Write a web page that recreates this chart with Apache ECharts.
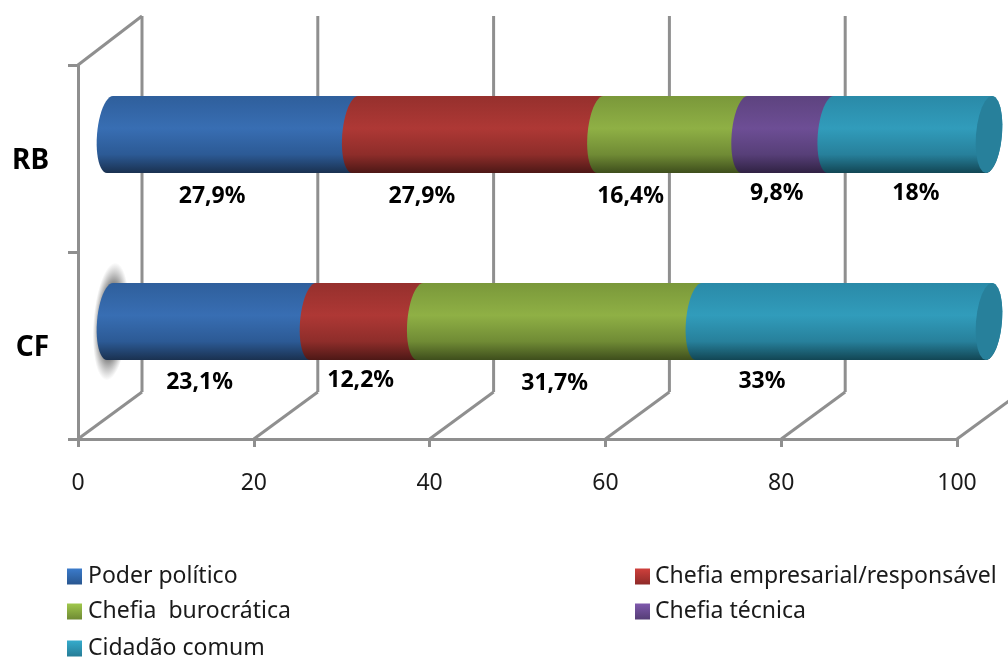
<!DOCTYPE html>
<html><head><meta charset="utf-8">
<style>html,body{margin:0;padding:0;background:#fff}#c{width:1008px;height:657px}</style>
<script src="https://cdn.jsdelivr.net/npm/echarts@6/dist/echarts.min.js"></script>
</head><body><div id="c"></div>
<script>
const categories = ['RB', 'CF'];
const xTicks = [0, 20, 40, 60, 80, 100];
const seriesNames = ['Poder político', 'Chefia empresarial/responsável', 'Chefia  burocrática', 'Chefia técnica', 'Cidadão comum'];
const poderPolitico = [27.9, 23.1];
const chefiaEmpresarial = [27.9, 12.2];
const chefiaBurocratica = [16.4, 31.7];
const chefiaTecnica = [9.8, null];
const cidadaoComum = [18, 33];
const labelsPoder = ['27,9%', '23,1%'];
const labelsEmpresarial = ['27,9%', '12,2%'];
const labelsBurocratica = ['16,4%', '31,7%'];
const labelsTecnica = ['9,8%', null];
const labelsCidadao = ['18%', '33%'];

const values = [poderPolitico, chefiaEmpresarial, chefiaBurocratica, chefiaTecnica, cidadaoComum];
const labels = [labelsPoder, labelsEmpresarial, labelsBurocratica, labelsTecnica, labelsCidadao];

/* styling and layout */
const FONT = '"Noto Sans", sans-serif';
const WALL = '#8f8f8f';
const BAR_DX = 32, BAR_DY = -24, BACK_DX = 64, BACK_DY = -47, RX = 13, RY = 38.5, SKEW = 3;
const palette = [
  ['#2f5f9c', '#386eb3', '#2c5a95', '#1a3150', '#3b7bcb', '#28568f'],
  ['#96302d', '#ae3835', '#8e2d2a', '#4d1816', '#cf403c', '#8e2a28'],
  ['#7a983a', '#8fb045', '#708b35', '#3e4e1c', '#a0c84c', '#6f8a34'],
  ['#5d437f', '#6d4e95', '#573f78', '#302243', '#7f59ad', '#553d75'],
  ['#2a8aa8', '#319cbb', '#27809b', '#124654', '#35abcc', '#267d97']
];
const labelNudge = [
  [[-20.5, 62], [-12, 61]],
  [[-56, 62], [-6, 59]],
  [[-42, 62], [-5, 62]],
  [[-11, 59], null],
  [[6, 59], [-82, 60]]
];

function ellipsePts(cx, cy, from, to) {
  const pts = [];
  for (let i = 0; i <= 24; i++) {
    const t = from + (to - from) * i / 24;
    pts.push([cx + RX * Math.cos(t) - SKEW * Math.sin(t), cy + RY * Math.sin(t)]);
  }
  return pts;
}
function vGrad(c) {
  return {type: 'linear', x: 0, y: 0, x2: 0, y2: 1, colorStops: [
    {offset: 0, color: c[0]}, {offset: 0.42, color: c[1]}, {offset: 0.76, color: c[2]}, {offset: 1, color: c[3]}
  ]};
}
function legendGrad(c) {
  return {type: 'linear', x: 0, y: 0, x2: 0, y2: 1, colorStops: [{offset: 0, color: c[4]}, {offset: 1, color: c[5]}]};
}
const haloFill = {type: 'radial', x: 0.5, y: 0.5, r: 0.5, colorStops: [
  {offset: 0, color: 'rgba(120,120,120,0.95)'},
  {offset: 0.65, color: 'rgba(125,125,125,0.9)'},
  {offset: 1, color: 'rgba(150,150,150,0)'}
]};

function makeSeries(si) {
  const data = [];
  categories.forEach((cat, ci) => {
    if (values[si][ci] == null) return;
    let start = 0;
    for (let k = 0; k < si; k++) start += values[k][ci] || 0;
    data.push([start, start + values[si][ci], ci]);
  });
  return {
    type: 'custom', name: seriesNames[si], z: 5 + si, data, clip: false,
    encode: {x: [0, 1], y: 2},
    itemStyle: {color: legendGrad(palette[si])},
    renderItem(params, api) {
      const ci = api.value(2);
      const a = api.coord([api.value(0), ci]);
      const b = api.coord([api.value(1), ci]);
      const x0 = a[0] + BAR_DX, x1 = b[0] + BAR_DX, cy = a[1] + BAR_DY;
      const pts = ellipsePts(x0, cy, -Math.PI / 2, -Math.PI * 1.5)
        .concat(ellipsePts(x1, cy, Math.PI / 2, -Math.PI / 2));
      const children = [];
      if (si === 0 && categories[ci] === 'CF') {
        children.push({type: 'circle', x: x0 + 1, y: cy, scaleX: 0.3, rotation: -0.08,
          shape: {cx: 0, cy: 0, r: 59}, style: {fill: haloFill}});
      }
      children.push({type: 'polygon', shape: {points: pts}, style: {fill: vGrad(palette[si])}});
      if (api.value(1) >= 99.9) {
        children.push({type: 'polygon', shape: {points: ellipsePts(x1, cy, 0, Math.PI * 2)},
          style: {fill: palette[si][2]}});
      }
      const n = labelNudge[si][ci];
      children.push({type: 'text', z2: 50, style: {
        text: labels[si][ci], x: (x0 + x1) / 2 + n[0], y: cy + n[1],
        align: 'center', verticalAlign: 'middle', fill: '#000',
        font: 'bold 23px ' + FONT
      }});
      return {type: 'group', children};
    }
  };
}

const wallSeries = {
  type: 'custom', name: 'walls', z: 1, silent: true, clip: false,
  data: xTicks.map(t => [t]),
  encode: {x: 0},
  renderItem(params, api) {
    const rect = params.coordSys;
    const x = api.coord([api.value(0), categories[0]])[0];
    const bottom = rect.y + rect.height, top = rect.y;
    const st = {stroke: WALL, lineWidth: 3, fill: 'none'};
    const children = [
      {type: 'line', shape: {x1: x, y1: bottom, x2: x + BACK_DX, y2: bottom + BACK_DY}, style: st},
      {type: 'line', shape: {x1: x + BACK_DX, y1: bottom + BACK_DY, x2: x + BACK_DX, y2: top + BACK_DY - 2}, style: st}
    ];
    if (api.value(0) === 0) {
      children.push({type: 'line', shape: {x1: x, y1: top, x2: x + BACK_DX, y2: top + BACK_DY - 2}, style: st});
    }
    return {type: 'group', children};
  }
};

function legendRow(nameIndex, left, top, pad) {
  return {
    left, top, data: [seriesNames[nameIndex]],
    itemWidth: 15, itemHeight: 16, icon: 'rect', selectedMode: false,
    textStyle: {fontFamily: FONT, fontSize: 23, color: '#1a1a1a', padding: [0, 0, 0, pad]}
  };
}

const chart = echarts.init(document.getElementById('c'), null, {renderer: 'canvas'});
chart.setOption({
  animation: false,
  backgroundColor: '#fff',
  grid: {left: 78, top: 65, width: 879, height: 374, containLabel: false},
  xAxis: {
    type: 'value', min: 0, max: 100, interval: 20,
    axisLine: {show: true, lineStyle: {color: WALL, width: 3}},
    axisTick: {show: true, length: 8, lineStyle: {color: WALL, width: 3}},
    axisLabel: {fontFamily: FONT, fontSize: 23, color: '#1a1a1a', margin: 33, showMinLabel: true, showMaxLabel: true},
    splitLine: {show: false}
  },
  yAxis: {
    type: 'category', inverse: true, data: categories,
    axisLine: {show: true, onZero: false, lineStyle: {color: WALL, width: 3}},
    axisTick: {show: true, length: 10, lineStyle: {color: WALL, width: 3}},
    axisLabel: {
      margin: 29, formatter: '{a|{value}}',
      rich: {a: {fontFamily: FONT, fontSize: 28, fontWeight: 'bold', color: '#000', padding: [5, 0, 0, 0]}}
    },
    splitLine: {show: false}
  },
  legend: [
    legendRow(0, 62, 560, 1),
    legendRow(2, 62, 595, 1),
    legendRow(4, 62, 632, 1),
    legendRow(1, 630, 560, 0),
    legendRow(3, 630, 595, 0)
  ],
  series: [wallSeries].concat(seriesNames.map((_, i) => makeSeries(i)))
});
</script></body></html>
